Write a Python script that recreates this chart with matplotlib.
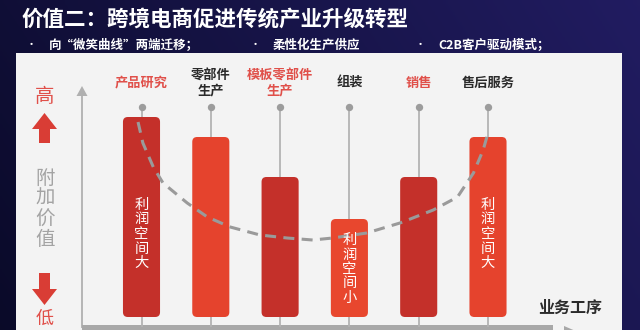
import numpy as np
import matplotlib
matplotlib.use('Agg')
from matplotlib import pyplot as plt
from matplotlib.patches import Rectangle, Polygon, FancyBboxPatch

plt.rcParams['font.family'] = ['Noto Sans CJK SC', 'DejaVu Sans']

# data
stages = ['产品研究', '零部件\n生产', '模板零部件\n生产', '组装', '销售', '售后服务']
value_added = [10, 9, 7, 4.9, 7, 9]
stage_red = [True, False, True, False, True, False]
bar_colors = ['#c4302a', '#e5432d', '#c4302a', '#e8472e', '#c4302a', '#e5432d']
profit_notes = {0: '利润空间大', 3: '利润空间小', 5: '利润空间大'}
note_centers = {0: 4.15, 3: 2.4, 5: 4.15}

# "smile curve" traced across the stages
smile_x = [-0.05, 0.02, 0.17, 0.31, 0.66, 0.95, 1.28, 1.71, 2.10, 2.47,
           2.76, 3.25, 3.73, 4.21, 4.56, 4.79, 4.93, 5.0]
smile_y = [9.75, 8.7, 7.5, 6.7, 5.7, 5.0, 4.5, 4.1, 3.95, 3.85,
           3.95, 4.2, 4.7, 5.35, 6.0, 7.2, 8.35, 9.2]

title = '价值二：跨境电商促进传统产业升级转型'
bullets = ['向“微笑曲线”两端迁移；', '柔性化生产供应', 'C2B客户驱动模式；']

RED = '#d93d35'
LABEL_RED = '#e0504a'
GRAY = '#a8a8a8'

fig = plt.figure(figsize=(6.4, 3.3), dpi=100)

# slide background, laid out in pixel units
bg = fig.add_axes([0, 0, 1, 1])
bg.set_xlim(0, 640)
bg.set_ylim(330, 0)
bg.axis('off')
gx = np.linspace(0, 1, 256)
gy = np.linspace(0, 1, 64)[:, None]
c0 = np.array([0.04, 0.04, 0.16])
c1 = np.array([0.13, 0.11, 0.38])
t = (0.75 * gx[None, :] + 0.25 * (1 - gy))[..., None]
grad = c0 * (1 - t) + c1 * t
bg.imshow(grad, extent=[0, 640, 330, 0], aspect='auto', zorder=0)
bg.add_patch(Rectangle((16, 53), 606, 290, facecolor='#f3f3f3', edgecolor='none', zorder=1))

bg.text(22, 19, title, color='white', fontsize=15.5, fontweight='bold', va='center', ha='left', zorder=2)
for bx, txt in zip([31, 255, 420], bullets):
    bg.text(bx, 45, '•', color='white', fontsize=8, va='center', ha='center', zorder=2)
    bg.text(bx + 18, 45, txt, color='white', fontsize=9, fontweight='bold', va='center', ha='left', zorder=2)

# value scale on the left
bg.text(45, 97, '高', color=LABEL_RED, fontsize=14, ha='center', va='center', zorder=2)
bg.add_patch(Polygon([(44.5, 113), (57, 129), (50, 129), (50, 143), (39, 143), (39, 129), (32, 129)],
                     closed=True, facecolor=RED, edgecolor='none', zorder=2))
for k, ch in enumerate('附加价值'):
    bg.text(45, 178 + 20.5 * k, ch, color='#a3a3a3', fontsize=14, ha='center', va='center', zorder=2)
bg.add_patch(Polygon([(39, 273), (50, 273), (50, 289), (57, 289), (44.5, 305), (32, 289), (39, 289)],
                     closed=True, facecolor=RED, edgecolor='none', zorder=2))
bg.text(45, 319, '低', color=LABEL_RED, fontsize=13, ha='center', va='center', zorder=2)

# axes lines with arrowheads
bg.plot([82, 82], [93, 327], color='#b5b5b5', lw=1.4, zorder=2)
bg.add_patch(Polygon([(82, 86), (87.5, 96), (76.5, 96)], closed=True, facecolor='#b0b0b0', edgecolor='none', zorder=2))
bg.add_patch(Rectangle((82, 324.5), 471, 8, facecolor=GRAY, edgecolor='none', zorder=2))
bg.add_patch(Polygon([(564, 326), (592, 338), (564, 350)], closed=True, facecolor=GRAY, edgecolor='none', zorder=2))
bg.text(570, 308, '业务工序', color='#2b2b2b', fontsize=11.5, fontweight='bold', ha='center', va='center', zorder=2)

# chart in data units: x = stage index, y = added value
ax = fig.add_axes([0, 0, 1, 1])
ax.patch.set_alpha(0)
ax.set_xlim((0 - 141.5) / 69.3, (640 - 141.5) / 69.3)
ax.set_ylim((317 - 330) / 20, 317 / 20)
ax.axis('off')

x = np.arange(len(stages))
for xi in x:
    ax.plot([xi, xi], [-0.5, 10.5], color='#b3b3b3', lw=1.3, zorder=2, solid_capstyle='butt')
ax.scatter(x, [10.5] * len(x), s=28, color='#9c9c9c', zorder=3, linewidths=0)

bars = ax.bar(x, value_added, width=0.535, color=bar_colors, zorder=3)
aspect = 69.3 / 20
for b, col in zip(bars, bar_colors):
    b.set_visible(False)
    ax.add_patch(FancyBboxPatch((b.get_x(), b.get_y()), b.get_width(), b.get_height(),
                                boxstyle='round,pad=0,rounding_size=0.07', mutation_aspect=aspect,
                                facecolor=col, edgecolor='none', zorder=3))

ax.plot(smile_x, smile_y, color='#9a9a9a', lw=2.2, ls=(0, (3.6, 2.4)), zorder=4)

for xi, name, red in zip(x, stages, stage_red):
    ax.text(xi, 11.7, name, color=LABEL_RED if red else '#2a2a2a', fontsize=9.5,
            fontweight='bold', ha='center', va='center', linespacing=1.05, zorder=5)

for i, note in profit_notes.items():
    step = 14.5 / 20
    top = note_centers[i] + step * (len(note) - 1) / 2
    for k, ch in enumerate(note):
        ax.text(x[i], top - k * step, ch, color='white', fontsize=10.3, ha='center', va='center', zorder=5)

fig.savefig('out.png', dpi=100)
